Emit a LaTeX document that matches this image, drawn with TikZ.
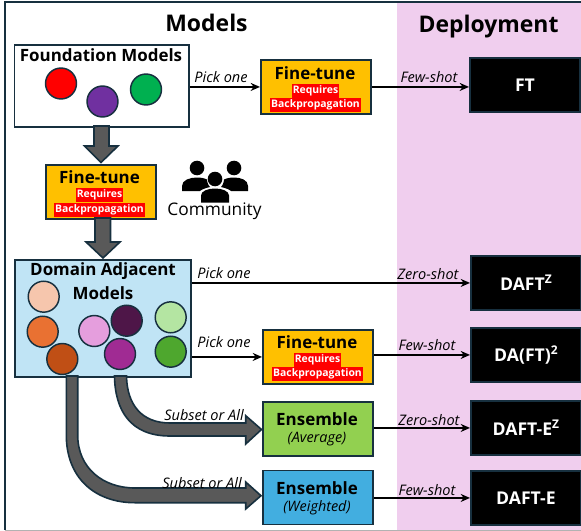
\documentclass[tikz,border=0pt]{standalone}
\usepackage{fontspec}
\setmainfont{Open Sans}
\usetikzlibrary{calc,arrows.meta}
\definecolor{edge}{HTML}{17303F}
\definecolor{pinkbg}{HTML}{F0CEEE}
\definecolor{amber}{HTML}{FFC000}
\definecolor{sky}{HTML}{C0E4F5}
\definecolor{grass}{HTML}{92D050}
\definecolor{azure}{HTML}{42AEE0}
\definecolor{arrowgrey}{HTML}{595959}
\newcommand{\fsz}[1]{\fontsize{#1}{#1}\selectfont}
\tikzset{
  x=0.75pt,y=-0.75pt,
  boxbase/.style={draw=edge,line width=1.4pt,inner sep=0pt,anchor=north west},
  whitebox/.style={boxbase,fill=white},
  ftbox/.style={boxbase,fill=amber,minimum width=82.5pt,minimum height=40.5pt},
  depbox/.style={boxbase,fill=black,minimum width=82.5pt,minimum height=40.5pt,font=\fsz{13.2}\bfseries,text=white},
  model/.style={circle,draw=edge,line width=1.1pt,minimum size=23.2pt,inner sep=0pt},
  head/.style={font=\fsz{12.7}\bfseries,inner sep=0pt},
  title/.style={font=\fsz{17.2}\bfseries,inner sep=0pt},
  req/.style={fill=red,text=white,font=\fsz{7.8}\bfseries,inner sep=0.6pt,minimum height=10.5pt},
  sub/.style={font=\fsz{10.8}\itshape,inner sep=0pt},
  edgelabel/.style={font=\fsz{10.9}\itshape,inner sep=0pt},
  thin arrow/.style={draw=black,line width=1.4pt,-{Stealth[length=7pt,width=6pt]}},
  blockarrow/.style={fill=arrowgrey,draw=edge,line width=1.2pt,line join=miter},
}
\begin{document}
\begin{tikzpicture}
\useasboundingbox (0,0) rectangle (581,531);
\fill[white] (0,0) rectangle (581,531);
\fill[pinkbg] (396.5,3) rectangle (581,530);
\draw[edge,line width=1.4pt] (5,530) -- (5,2) -- (581,2);
\draw[gray!60,line width=0.8pt] (5,530.3) -- (581,530.3);

\node[title] (tmodels) at (206.5,22.5) {Models};
\node[title] (tdeploy) at (488.5,26.5) {Deployment};

% boxes
\node[whitebox,minimum width=131.2pt,minimum height=61.1pt] (fm) at (13.5,44.5) {};
\node[ftbox] (ft1) at (260,59) {};
\node[depbox] (dft) at (469,57) {FT};
\node[ftbox] (ft2) at (45,164) {};
\node[boxbase,fill=sky,minimum width=132pt,minimum height=87.75pt] (dam) at (14,259) {};
\node[depbox] (dz) at (470,255) {DAFT\raisebox{0.42em}{\fsz{9}Z}};
\node[ftbox] (ft3) at (262,329) {};
\node[depbox] (dft2) at (470,327) {DA(FT)\raisebox{0.42em}{\fsz{9}2}};
\node[boxbase,fill=grass,minimum width=82.5pt,minimum height=40.5pt] (eavg) at (262,401) {};
\node[depbox] (dez) at (470,400) {DAFT-E\raisebox{0.42em}{\fsz{9}Z}};
\node[boxbase,fill=azure,minimum width=82.5pt,minimum height=40.5pt] (ewt) at (262,469.5) {};
\node[depbox] (de) at (470,470) {DAFT-E};

% box texts
\node[head] (tfm) at (101,55.5) {Foundation Models};
\node[head] (tf1) at (315,73) {Fine-tune};
\node[req] (r1a) at (315.5,91) {Requires};
\node[req] (r1b) at (315.5,105) {Backpropagation};
\node[head] (tf2) at (99.5,177) {Fine-tune};
\node[req] (r2a) at (99.5,195) {Requires};
\node[req] (r2b) at (99.5,209.5) {Backpropagation};
\node[head] (tf3) at (317,342) {Fine-tune};
\node[req] (r3a) at (317.5,360) {Requires};
\node[req] (r3b) at (317.5,374) {Backpropagation};
\node[head] (td1) at (103,271.5) {Domain Adjacent};
\node[head] (td2) at (103,293) {Models};
\node[head] (te1) at (317,419.5) {Ensemble};
\node[sub] (te2) at (317,439.5) {(Average)};
\node[head] (te3) at (317,488) {Ensemble};
\node[sub] (te4) at (317,508) {(Weighted)};

% circles
\node[model,fill=red] (c1) at (61,83.5) {};
\node[model,fill={rgb,255:red,112;green,48;blue,160}] (c2) at (102.5,101.5) {};
\node[model,fill={rgb,255:red,0;green,176;blue,80}] (c3) at (146,89.5) {};
\node[model,fill={rgb,255:red,246;green,198;blue,173}] (d1) at (43.7,296.7) {};
\node[model,fill={rgb,255:red,233;green,113;blue,50}] (d2) at (42.7,331.7) {};
\node[model,fill={rgb,255:red,229;green,158;blue,221}] (d4) at (94.3,331) {};
\node[model,fill={rgb,255:red,78;green,22;blue,72}] (d5) at (126.7,320.7) {};
\node[model,fill={rgb,255:red,160;green,43;blue,147}] (d6) at (120,354) {};
\node[model,fill={rgb,255:red,180;green,229;blue,162}] (d7) at (170.7,317.3) {};
\node[model,fill={rgb,255:red,78;green,167;blue,46}] (d8) at (170.7,351.7) {};

% block arrows
\path[blockarrow] (94,126) -- (94,146) -- (84.5,146) -- (101,162.5) -- (118,146) -- (109,146) -- (109,126) -- cycle;
\path[blockarrow] (95,218) -- (95,242) -- (86,242) -- (103,258) -- (120,242) -- (110.5,242) -- (110.5,218) -- cycle;
\path[blockarrow] (114.5,376) .. controls (115,410) and (130,436) .. (170,436) -- (245.7,436) -- (245.7,444) -- (261.5,429.5) -- (245.7,415.7) -- (245.7,423) -- (170,423) .. controls (142,423) and (127,405) .. (126.5,376) -- cycle;
\path[blockarrow] (66.3,376) -- (66.3,435) .. controls (66.3,478) and (95,502.7) .. (135,502.7) -- (245.7,502.7) -- (245.7,509) -- (261,495.7) -- (245.7,482) -- (245.7,488) -- (135,488) .. controls (103,488) and (77.7,468) .. (77.7,435) -- (77.7,376) -- cycle;

\node[model,fill={rgb,255:red,192;green,79;blue,21}] (d3) at (62.3,359) {};

% community icon
\fill (197,168) circle (7.3);
\fill (234,168) circle (7.3);
\fill (215,179) circle (7.3);
\fill (182,191) -- (182,186) .. controls (182,180) and (190,177.5) .. (197,177.5) .. controls (200,177.5) and (204,178) .. (207,179.5) .. controls (207,183) and (209,186) .. (210,187) .. controls (205,188) and (201,190) .. (200,191) -- cycle;
\fill (248,191) -- (248,186) .. controls (248,180) and (241,177.5) .. (234,177.5) .. controls (231,177.5) and (227,178) .. (224,179.5) .. controls (224,183) and (222,186) .. (221,187) .. controls (226,188) and (230,190) .. (231,191) -- cycle;
\fill (201,202.5) -- (201,195.5) .. controls (201,191) and (208,188.5) .. (215,188.5) .. controls (222,188.5) and (229,191) .. (229,195.5) -- (229,202.5) -- cycle;
\node[font=\fsz{13},inner sep=0pt] (comm) at (214.5,211) {Community};

% thin connectors
\draw[thin arrow] (fm.east |- ft1.west) -- (ft1.west);
\draw[thin arrow] (ft1.east) -- (ft1.east -| dft.west);
\draw[thin arrow] (dam.east |- dz.west) -- (dz.west);
\draw[thin arrow] (dam.east |- ft3.west) -- (ft3.west);
\draw[thin arrow] (ft3.east |- dft2.west) -- (dft2.west);
\draw[thin arrow] (eavg.east |- dez.west) -- (dez.west);
\draw[thin arrow] (ewt.east |- de.west) -- (de.west);

% connector labels
\node[edgelabel] (l1) at (221,77) {Pick one};
\node[edgelabel] (l2) at (429,77) {Few-shot};
\node[edgelabel] (l3) at (224,273) {Pick one};
\node[edgelabel] (l4) at (428,274) {Zero-shot};
\node[edgelabel] (l5) at (224,342.5) {Pick one};
\node[edgelabel] (l6) at (427,345) {Few-shot};
\node[edgelabel] (l7) at (204,415) {Subset or All};
\node[edgelabel] (l8) at (429,420) {Zero-shot};
\node[edgelabel] (l9) at (202,483) {Subset or All};
\node[edgelabel] (l10) at (427,490) {Few-shot};
\end{tikzpicture}
\end{document}
